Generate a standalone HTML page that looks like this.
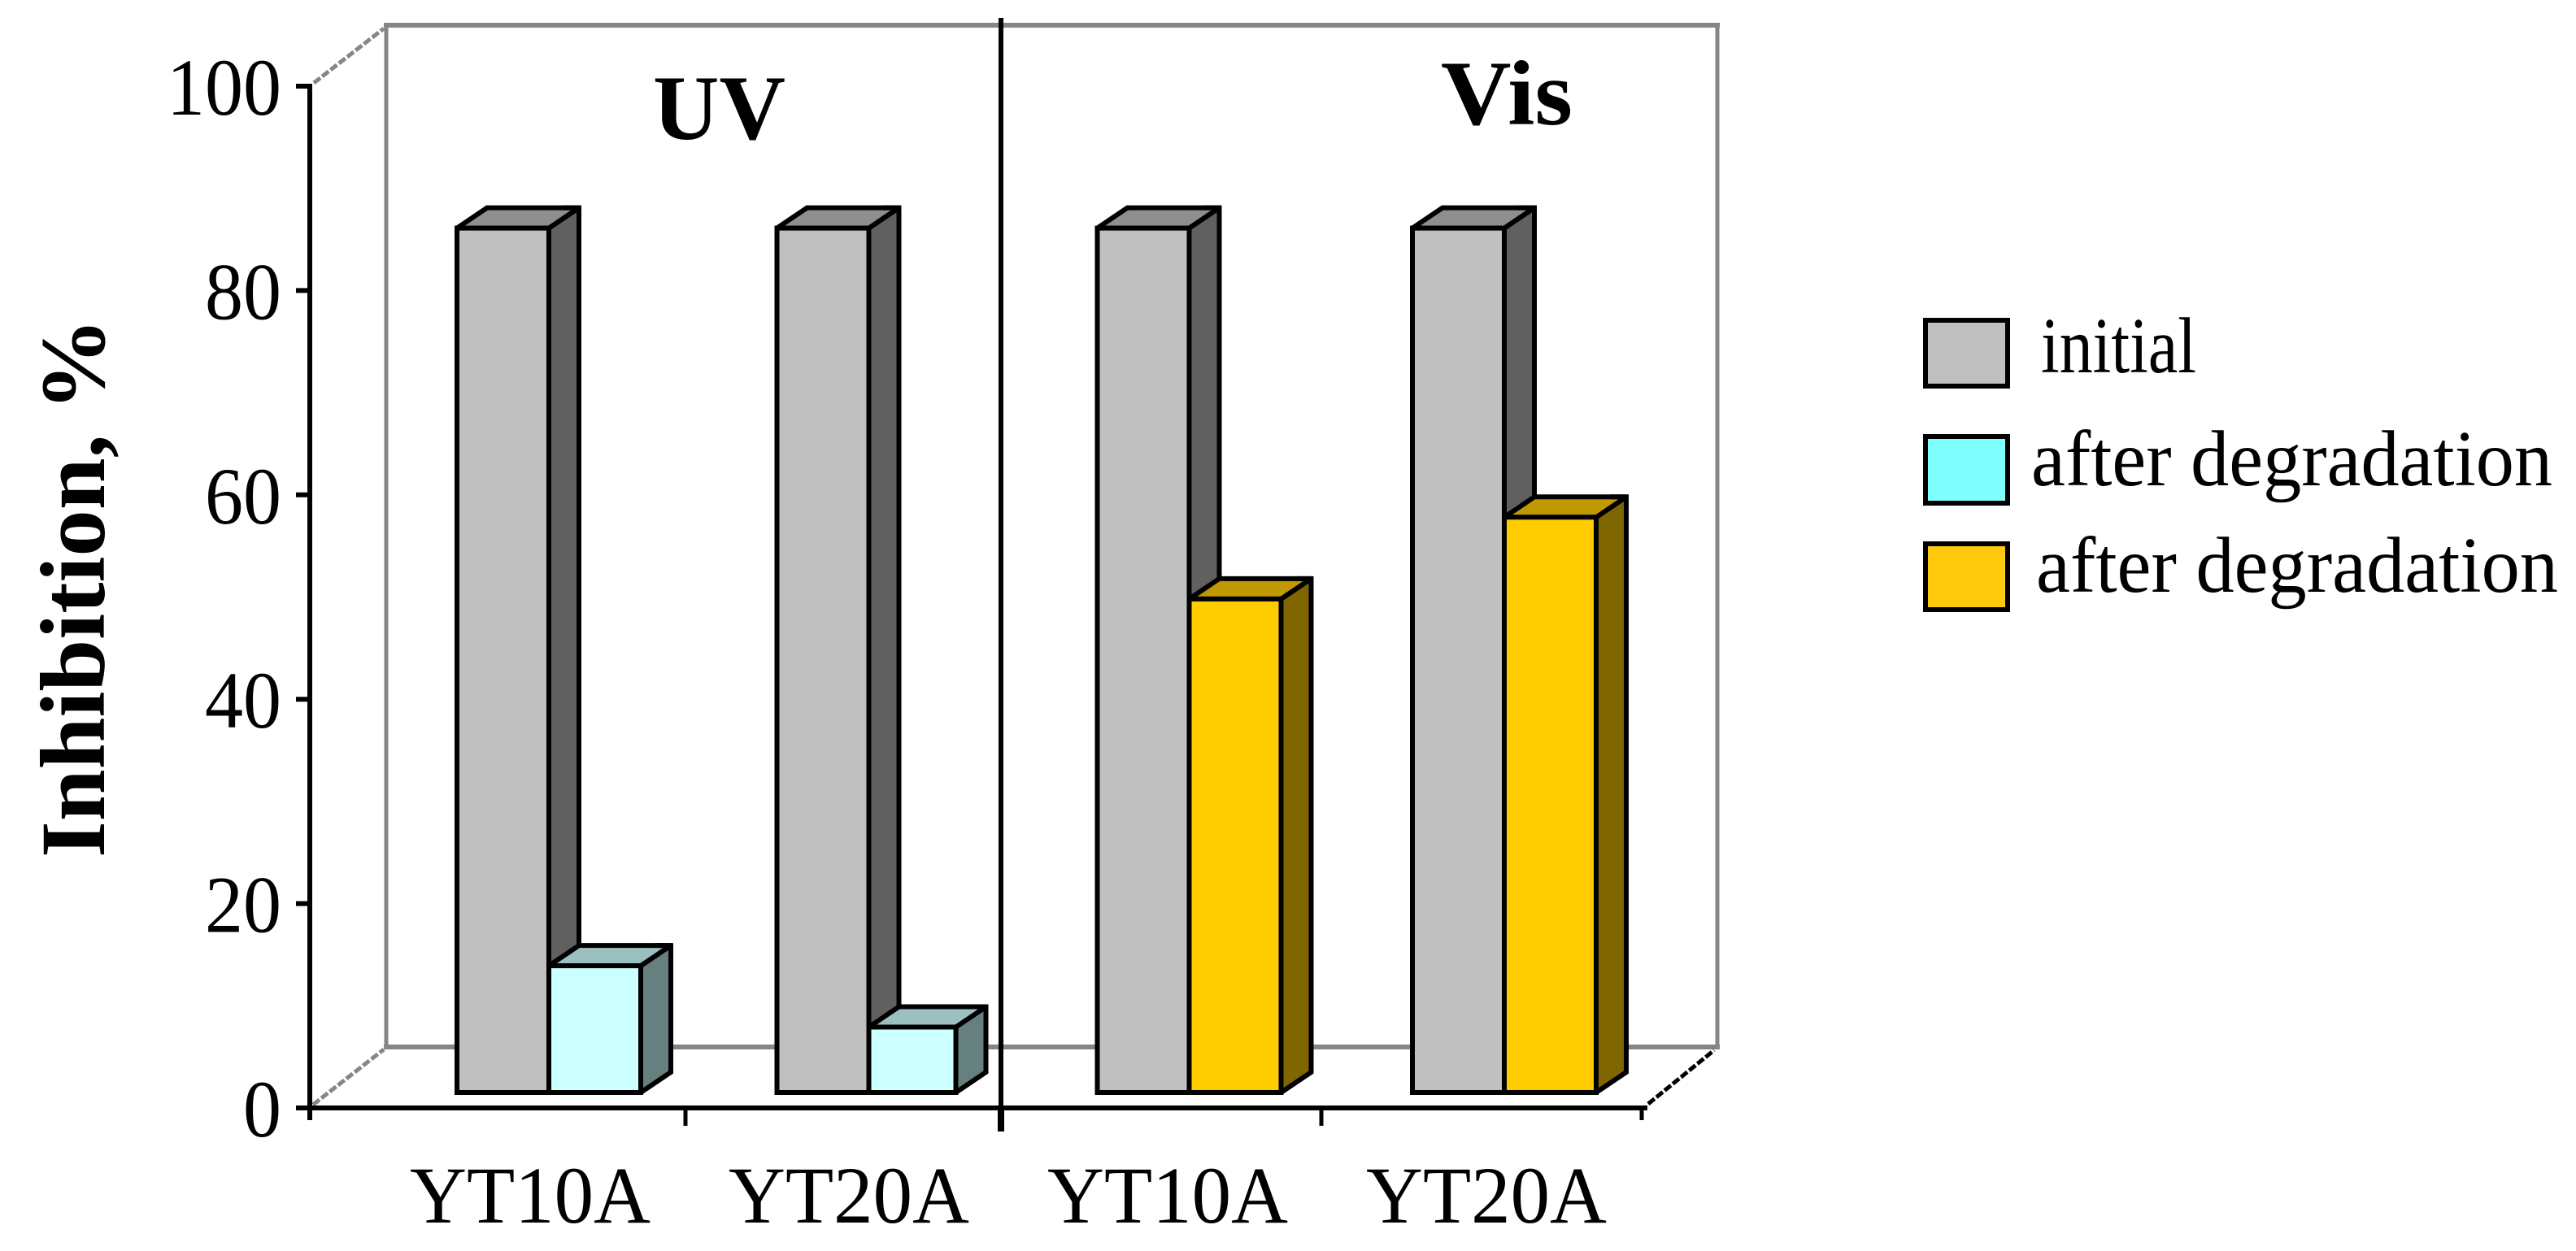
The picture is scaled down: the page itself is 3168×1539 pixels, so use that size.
<!DOCTYPE html>
<html lang="en">
<head>
<meta charset="utf-8">
<title>Inhibition chart</title>
<style>
html,body{margin:0;padding:0;background:#fff;width:3168px;height:1539px;overflow:hidden}
svg{display:block}
text{font-family:"Liberation Serif","DejaVu Serif",serif;fill:#000}
</style>
</head>
<body>
<svg id="chart" xmlns="http://www.w3.org/2000/svg" width="3168" height="1539" viewBox="0 0 3168 1539">
  <rect x="0" y="0" width="3168" height="1539" fill="#fff"/>
  <g fill="none" stroke="#868686">
    <line x1="475" y1="28" x2="475" y2="1291" stroke-width="5"/>
    <line x1="472" y1="31" x2="2115" y2="31" stroke-width="6"/>
    <line x1="2112" y1="28" x2="2112" y2="1291" stroke-width="5"/>
    <line x1="472" y1="1288" x2="2115" y2="1288" stroke-width="6"/>
    <line x1="386" y1="102" x2="472" y2="35" stroke-width="5" stroke-dasharray="10 3"/>
    <line x1="385" y1="1359" x2="472" y2="1291" stroke-width="5" stroke-dasharray="10 3"/>
    <line x1="2027" y1="1358" x2="2108" y2="1292" stroke="#000" stroke-width="5" stroke-dasharray="10 3"/>
  </g>
  <g id="bars"></g>
  <g stroke="#000" fill="none">
    <line x1="365" y1="1363" x2="2026" y2="1363" stroke-width="6"/>
    <line x1="381" y1="1363" x2="381" y2="1378" stroke-width="6"/>
    <line x1="843" y1="1363" x2="843" y2="1385" stroke-width="5"/>
    <line x1="1231" y1="1363" x2="1231" y2="1392" stroke-width="8"/>
    <line x1="1625" y1="1363" x2="1625" y2="1385" stroke-width="5"/>
    <line x1="2019" y1="1363" x2="2019" y2="1378" stroke-width="5"/>
  </g>
  <g id="y-axis" stroke="#000" fill="none">
    <line x1="381" y1="103" x2="381" y2="1378" stroke-width="6"/>
  </g>
  <line x1="1231" y1="22" x2="1231" y2="1392" stroke="#000" stroke-width="6"/>
  <g id="y-labels"></g>
  <g id="x-labels"></g>
  <text transform="translate(128,1055) rotate(-90)" font-size="113" font-weight="bold" textLength="664" lengthAdjust="spacingAndGlyphs">Inhibition, %</text>
  <text x="803" y="171" font-size="113" font-weight="bold" textLength="163" lengthAdjust="spacingAndGlyphs">UV</text>
  <text x="1772" y="153" font-size="113" font-weight="bold" textLength="162" lengthAdjust="spacingAndGlyphs">Vis</text>
  <g>
    <rect x="2368" y="394" width="101" height="81" fill="#c0c0c0" stroke="#000" stroke-width="6"/>
    <text x="2510" y="458" font-size="98" textLength="191" lengthAdjust="spacingAndGlyphs">initial</text>
    <rect x="2368" y="537" width="101" height="82" fill="#80ffff" stroke="#000" stroke-width="6"/>
    <text x="2498" y="597" font-size="98" textLength="641" lengthAdjust="spacingAndGlyphs">after degradation</text>
    <rect x="2368" y="669" width="101" height="81" fill="#ffc90e" stroke="#000" stroke-width="6"/>
    <text x="2504" y="728" font-size="98" textLength="642" lengthAdjust="spacingAndGlyphs">after degradation</text>
  </g>
</svg>
<script>
const categories = ["YT10A", "YT20A", "YT10A", "YT20A"];
const initialValues = [84.6, 84.6, 84.6, 84.6];
const afterValues = [12.4, 6.4, 48.3, 56.3];
const afterKinds = ["uv", "uv", "vis", "vis"];
const yTickValues = [0, 20, 40, 60, 80, 100];

const NS = "http://www.w3.org/2000/svg";
const PX_PER_UNIT = 12.57;
const BAR_W = 113;
const DX = 37;
const DY = 25;
const PALETTE = {
  initial: { front: "#c0c0c0", top: "#8f8f8f", side: "#606060" },
  uv: { front: "#ccffff", top: "#9bc0bf", side: "#668080" },
  vis: { front: "#ffcc00", top: "#c09900", side: "#806600" }
};
function yAxis(v) { return 1363 - v * PX_PER_UNIT; }
function yBar(v) { return 1344 - v * PX_PER_UNIT; }
function xMid(i) { return 675 + i * 392 + (i === 1 ? 1.5 : i === 2 ? 3.5 : i === 3 ? -1 : 0); }
function xLabel(i) { return 652 + i * 392; }
function afterWidth(i) { return i === 1 ? BAR_W - 6 : BAR_W; }

const barsRoot = document.getElementById("bars");
function face(parent, pts, fill) {
  const p = document.createElementNS(NS, "polygon");
  p.setAttribute("points", pts.map(function (a) { return a.join(","); }).join(" "));
  p.setAttribute("fill", fill);
  p.setAttribute("stroke", "#000");
  p.setAttribute("stroke-width", "6");
  p.setAttribute("stroke-linejoin", "miter");
  p.setAttribute("stroke-miterlimit", "1.9");
  parent.appendChild(p);
  return p;
}
function drawBar(x0, width, value, colors, name) {
  const x1 = x0 + width;
  const yt = yBar(value);
  const yb = yBar(0);
  const g = document.createElementNS(NS, "g");
  
  
  const side = face(g, [[x1, yt], [x1 + DX, yt - DY], [x1 + DX, yb - DY], [x1, yb]], colors.side);
  
  
  const top = face(g, [[x0, yt], [x0 + DX, yt - DY], [x1 + DX, yt - DY], [x1, yt]], colors.top);
  
  
  const corner = document.createElementNS(NS, "polyline");
  
  
  corner.setAttribute("points", (x1 + DX - 20) + "," + (yt - DY) + " " + (x1 + DX) + "," + (yt - DY) + " " + (x1 + DX) + "," + (yt - DY + 20));
  corner.setAttribute("fill", "none");
  corner.setAttribute("stroke", "#000");
  corner.setAttribute("stroke-width", "6");
  g.appendChild(corner);
  const front = face(g, [[x0, yt], [x1, yt], [x1, yb], [x0, yb]], colors.front);
  
  
  barsRoot.appendChild(g);
}
categories.forEach(function (cat, i) {
  drawBar(xMid(i) - BAR_W, BAR_W, initialValues[i], PALETTE.initial, "bar-initial-" + (i + 1));
  drawBar(xMid(i), afterWidth(i), afterValues[i], PALETTE[afterKinds[i]], "bar-after-" + (i + 1));

  const t = document.createElementNS(NS, "text");
  
  
  t.setAttribute("x", xLabel(i));
  t.setAttribute("y", 1504);
  t.setAttribute("font-size", "100");
  t.setAttribute("text-anchor", "middle");
  t.setAttribute("textLength", "296");
  t.setAttribute("lengthAdjust", "spacingAndGlyphs");
  t.textContent = cat;
  document.getElementById("x-labels").appendChild(t);
});

yTickValues.forEach(function (v) {
  const tick = document.createElementNS(NS, "line");
  
  
  tick.setAttribute("x1", 364);
  tick.setAttribute("x2", 381);
  tick.setAttribute("y1", yAxis(v));
  tick.setAttribute("y2", yAxis(v));
  tick.setAttribute("stroke-width", "6");
  document.getElementById("y-axis").appendChild(tick);

  const label = document.createElementNS(NS, "text");
  
  
  const s = String(v);
  label.setAttribute("x", 346 - s.length * 47);
  label.setAttribute("y", yAxis(v) + 35);
  label.setAttribute("font-size", "100");
  label.setAttribute("textLength", s.length * 47);
  label.setAttribute("lengthAdjust", "spacingAndGlyphs");
  label.textContent = s;
  document.getElementById("y-labels").appendChild(label);
});
</script>
</body>
</html>
